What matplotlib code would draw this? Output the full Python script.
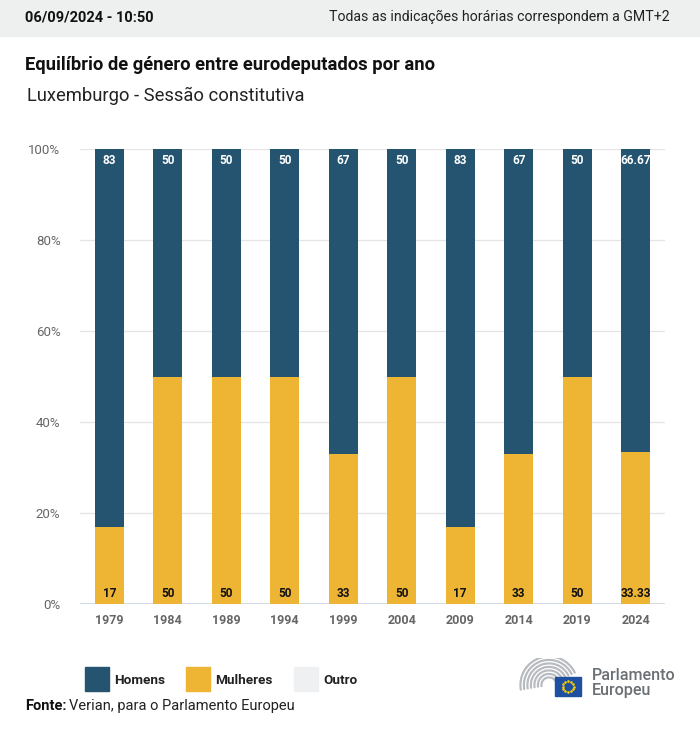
import matplotlib
matplotlib.use("Agg")
import matplotlib.pyplot as plt
from matplotlib.patches import Rectangle, Wedge
import numpy as np

plt.rcParams['font.family'] = ['Roboto', 'DejaVu Sans']

anos = ['1979', '1984', '1989', '1994', '1999', '2004', '2009', '2014', '2019', '2024']
mulheres = [17, 50, 50, 50, 33, 50, 17, 33, 50, 33.33]
homens = [83, 50, 50, 50, 67, 50, 83, 67, 50, 66.67]
rotulos_mulheres = ['17', '50', '50', '50', '33', '50', '17', '33', '50', '33.33']
rotulos_homens = ['83', '50', '50', '50', '67', '50', '83', '67', '50', '66.67']
yticks = [0, 20, 40, 60, 80, 100]

azul = '#24546f'
amarelo = '#eeb534'
outro = '#eef0f2'

W, H = 700, 731
fig = plt.figure(figsize=(W / 100, H / 100), dpi=100)

def fx(px):
    return px / W

def fy(py):
    return 1 - py / H

# cabeçalho
fig.patches.append(Rectangle((0, fy(36)), 1, 36 / H, transform=fig.transFigure,
                             color='#eef0f0', zorder=0))
fig.text(fx(25), fy(17), '06/09/2024 - 10:50', fontsize=10.5, fontweight='bold',
         va='center', ha='left', color='#111111')
fig.text(fx(670), fy(17), 'Todas as indicações horárias correspondem a GMT+2',
         fontsize=10.2, va='center', ha='right', color='#222222')
fig.text(fx(25), fy(65), 'Equilíbrio de género entre eurodeputados por ano',
         fontsize=13.2, fontweight='bold', va='center', ha='left', color='#111111')
fig.text(fx(27), fy(96), 'Luxemburgo - Sessão constitutiva',
         fontsize=13.2, va='center', ha='left', color='#222222')

ax = fig.add_axes([fx(80), fy(604), fx(665) - fx(80), (604 - 149) / H])
x = np.arange(len(anos))
largura = 0.5
ax.bar(x, mulheres, width=largura, color=amarelo, zorder=3)
ax.bar(x, homens, width=largura, bottom=mulheres, color=azul, zorder=3)

for i in x:
    ax.text(i, 2.4, rotulos_mulheres[i], ha='center', va='center', fontsize=8.5,
            fontweight='bold', color='#111111', zorder=4)
    ax.text(i, 97.4, rotulos_homens[i], ha='center', va='center', fontsize=8.5,
            fontweight='bold', color='white', zorder=4)

ax.set_xlim(-0.5, len(anos) - 0.5)
ax.set_ylim(0, 100)
ax.set_yticks(yticks)
ax.set_yticklabels([f'{v}%' for v in yticks], fontsize=9.5, color='#666666')
ax.set_xticks(x)
ax.set_xticklabels(anos, fontsize=9, fontweight='bold', color='#666666')
ax.tick_params(axis='both', length=0)
ax.tick_params(axis='y', pad=14)
ax.tick_params(axis='x', pad=7)
for s in ax.spines.values():
    s.set_visible(False)
for v in yticks[1:]:
    ax.axhline(v, color='#e4e4e4', lw=0.9, zorder=1)
ax.axhline(0, color='#ccd6e0', lw=1.2, zorder=2)

# legenda
legenda = [('Homens', azul, 85), ('Mulheres', amarelo, 186), ('Outro', outro, 294)]
for nome, cor, px in legenda:
    fig.patches.append(Rectangle((fx(px), fy(691)), 24 / W, 24 / H,
                                 transform=fig.transFigure, color=cor))
    fig.text(fx(px + 29), fy(680), nome, fontsize=9.7, fontweight='bold',
             va='center', ha='left', color='#222222')

fig.text(fx(25), fy(706), 'Fonte:', fontsize=10.5, fontweight='bold', va='center',
         ha='left', color='#111111')
fig.text(fx(69), fy(706), 'Verian, para o Parlamento Europeu', fontsize=10.5,
         va='center', ha='left', color='#222222')

# logotipo
lax = fig.add_axes([fx(518), fy(698), 70 / W, 40 / H])
lax.set_xlim(0, 70)
lax.set_ylim(0, 40)
lax.axis('off')
for r in [8, 11.5, 15, 18.5, 22, 25.5, 29]:
    lax.add_patch(Wedge((31, 13), r, 25, 190, width=0.8, color='#b8bcc0'))
lax.add_patch(Rectangle((37, 2), 26, 19, color='#1f4fa0'))
ang = np.linspace(0, 2 * np.pi, 12, endpoint=False)
lax.scatter(50 + 5.5 * np.cos(ang), 11.5 + 5.5 * np.sin(ang), s=0.8, color='#f5d000')
fig.text(fx(592), fy(675), 'Parlamento', fontsize=11.6, va='center', ha='left',
         color='#6b7075', fontweight='medium')
fig.text(fx(592), fy(691), 'Europeu', fontsize=11.6, va='center', ha='left',
         color='#6b7075', fontweight='medium')

fig.savefig('out.png', dpi=100)
